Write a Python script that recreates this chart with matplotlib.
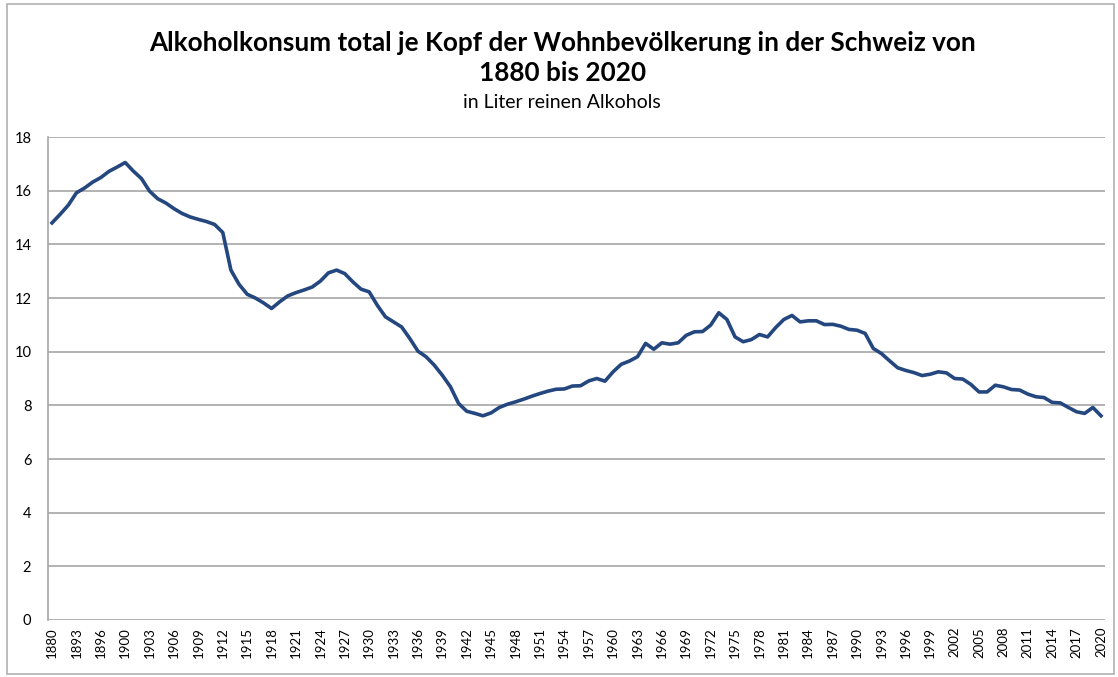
import numpy as np
import matplotlib.pyplot as plt
from matplotlib.patches import Rectangle

# categories (Excel category axis, every 3rd label shown)
years = ['1880', '1885', '1890', '1893', '1894', '1895', '1896', '1897', '1898'] + \
        [str(y) for y in range(1900, 2021)]

# Liter reinen Alkohols je Kopf
liters = [
  14.80, 15.12, 15.46, 15.92, 16.10, 16.32, 16.49, 16.72, 16.88,         # 1880-1898
  17.05, 16.73, 16.45, 15.98, 15.70, 15.54, 15.33, 15.15, 15.02, 14.93,  # 1900-1909
  14.85, 14.74, 14.44, 13.04, 12.51, 12.14, 12.00, 11.82, 11.61, 11.86,  # 1910-1919
  12.08, 12.20, 12.30, 12.41, 12.63, 12.94, 13.04, 12.91, 12.60, 12.33,  # 1920-1929
  12.23, 11.73, 11.30, 11.11, 10.92, 10.49, 10.02, 9.81, 9.50, 9.12,     # 1930-1939
  8.69, 8.07, 7.78, 7.70, 7.61, 7.72, 7.92, 8.04, 8.13, 8.23,            # 1940-1949
  8.34, 8.44, 8.53, 8.60, 8.61, 8.72, 8.73, 8.91, 9.00, 8.90,            # 1950-1959
  9.25, 9.53, 9.65, 9.81, 10.31, 10.09, 10.33, 10.28, 10.33, 10.61,      # 1960-1969
  10.74, 10.75, 10.99, 11.45, 11.20, 10.55, 10.37, 10.45, 10.64, 10.55,  # 1970-1979
  10.90, 11.20, 11.35, 11.11, 11.15, 11.15, 11.01, 11.02, 10.95, 10.83,  # 1980-1989
  10.80, 10.68, 10.12, 9.93, 9.66, 9.40, 9.30, 9.22, 9.11, 9.16,         # 1990-1999
  9.25, 9.21, 9.00, 8.98, 8.78, 8.50, 8.50, 8.75, 8.69, 8.59,            # 2000-2009
  8.57, 8.42, 8.32, 8.29, 8.11, 8.09, 7.92, 7.76, 7.70, 7.92,            # 2010-2019
  7.61,                                                                   # 2020
]

title = 'Alkoholkonsum total je Kopf der Wohnbevölkerung in der Schweiz von\n1880 bis 2020'
subtitle = 'in Liter reinen Alkohols'

plt.rcParams['font.family'] = ['Lato', 'DejaVu Sans']

fig = plt.figure(figsize=(11.18, 6.77), dpi=100)
fig.patches.append(Rectangle((0.006, 0.004), 0.99, 0.99, transform=fig.transFigure,
                             fill=False, edgecolor='#b0b0b0', linewidth=1.2))

ax = fig.add_axes([0.0429, 0.0842, 0.9455, 0.7134])
x = np.arange(len(years))
ax.plot(x, liters, color='#24477f', linewidth=2.6, solid_joinstyle='round')

ax.set_xlim(-0.5, len(years) - 0.5)
ax.set_ylim(0, 18)
ax.set_yticks(np.arange(0, 19, 2))
ax.set_xticks(x[::3])
ax.set_xticklabels(years[::3], rotation=90, fontsize=9.5)
ax.tick_params(axis='y', labelsize=10.5, length=0, pad=12)
ax.tick_params(axis='x', length=0, pad=5)

ax.grid(axis='y', color='#a6a6a6', linewidth=1.2)
ax.set_axisbelow(True)
for s in ['top', 'right', 'bottom']:
  ax.spines[s].set_visible(False)
ax.spines['left'].set_color('#a6a6a6')
ax.spines['left'].set_linewidth(1.2)

fig.text(0.503, 0.915, title, ha='center', va='center', fontsize=18.8,
         fontweight='bold', linespacing=1.3)
fig.text(0.503, 0.848, subtitle, ha='center', va='center', fontsize=14)

fig.savefig('out.png', dpi=100)
